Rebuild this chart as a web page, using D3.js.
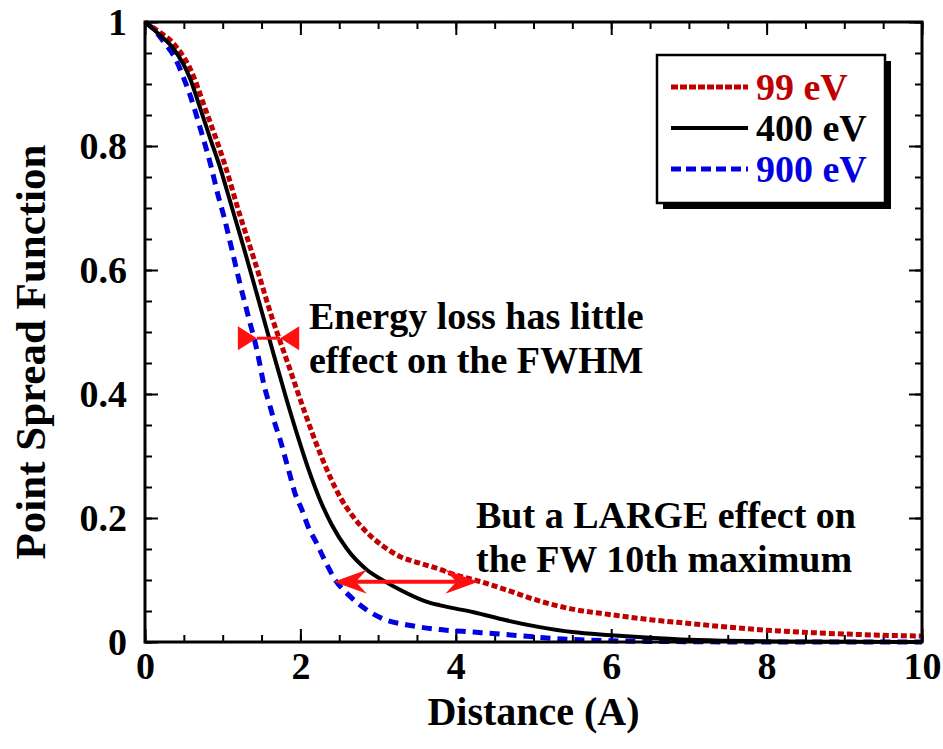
<!DOCTYPE html>
<html>
<head>
<meta charset="utf-8">
<script src="https://cdn.jsdelivr.net/npm/d3@7"></script>
<style>
  body { margin: 0; background: #fff; }
  svg text { font-family: "Liberation Serif", "Times New Roman", serif; font-weight: bold; }
</style>
</head>
<body>
<div id="chart"></div>
<script>
// Point spread function vs distance, three beam energies
const series99 = [
  [0, 1], [0.15, 0.987], [0.36, 0.966], [0.58, 0.925], [0.79, 0.855], [1.03, 0.769],
  [1.22, 0.689], [1.42, 0.611], [1.63, 0.525], [1.84, 0.449], [2.06, 0.369], [2.27, 0.299],
  [2.51, 0.234], [2.68, 0.202], [2.87, 0.175], [3.07, 0.154], [3.28, 0.138], [3.54, 0.127],
  [3.75, 0.119], [4.0, 0.108], [4.3, 0.098], [4.65, 0.084], [5.08, 0.066], [5.5, 0.053],
  [6.0, 0.044], [6.5, 0.036], [7.0, 0.030], [7.5, 0.024], [8.0, 0.019], [8.6, 0.015],
  [9.2, 0.012], [10, 0.0095]
];
const series400 = [
  [0, 1], [0.19, 0.979], [0.36, 0.958], [0.58, 0.909], [0.71, 0.861], [0.84, 0.812],
  [0.97, 0.764], [1.09, 0.713], [1.28, 0.632], [1.46, 0.552], [1.64, 0.471], [1.82, 0.392],
  [1.97, 0.33], [2.1, 0.28], [2.25, 0.23], [2.4, 0.19], [2.6, 0.15], [2.85, 0.117],
  [3.07, 0.099], [3.3, 0.083], [3.6, 0.066], [3.8, 0.059], [4.23, 0.048], [4.65, 0.035],
  [5.08, 0.024], [5.5, 0.016], [6.0, 0.011], [6.4, 0.0075], [6.9, 0.004], [7.5, 0.002],
  [8.2, 0.0008], [9, 0.0003], [10, 0]
];
const series900 = [
  [0, 1], [0.1, 0.99], [0.24, 0.968], [0.39, 0.941], [0.49, 0.912], [0.58, 0.882],
  [0.71, 0.829], [0.84, 0.772], [0.95, 0.716], [1.01, 0.689], [1.12, 0.632], [1.22, 0.579],
  [1.33, 0.525], [1.44, 0.471], [1.54, 0.41], [1.61, 0.38], [1.67, 0.353], [1.74, 0.326],
  [1.8, 0.299], [1.87, 0.267], [1.93, 0.24], [2.02, 0.213], [2.1, 0.186], [2.21, 0.159],
  [2.32, 0.13], [2.45, 0.1], [2.62, 0.076], [2.85, 0.052], [3.07, 0.037], [3.4, 0.027],
  [3.8, 0.02], [4.23, 0.016], [4.65, 0.012], [5.08, 0.0075], [5.5, 0.004], [6.0, 0.002],
  [6.5, 0.001], [7, 0.0005], [8, 0], [10, 0]
];

const legendLabels = ["99 eV", "400 eV", "900 eV"];
const xTickValues = [0, 2, 4, 6, 8, 10];
const yTickValues = [0, 0.2, 0.4, 0.6, 0.8, 1];

// annotation arrows (data coords)
const fwhmArrow = { x1: 1.44, x2: 1.74, y: 0.49 };
const fw10Arrow = { x1: 2.43, x2: 4.29, y: 0.097 };
const note1 = ["Energy loss has little", "effect on the FWHM"];
const note2 = ["But a LARGE effect on", "the FW 10th maximum"];

const width = 943;
const height = 749;
const margin = { top: 22, right: 21, bottom: 107, left: 145 };

const x = d3.scaleLinear().domain([0, 10]).range([margin.left, width - margin.right]);
const y = d3.scaleLinear().domain([0, 1]).range([height - margin.bottom, margin.top]);

const svg = d3.select("#chart").append("svg")
  .attr("width", width)
  .attr("height", height);

const styles = [
  { data: series900, color: "#0000e0", width: 5, dash: "10,7", legendDash: "10,5" },
  { data: series99, color: "#c00000", width: 5, dash: "6,3", legendDash: "7,2" },
  { data: series400, color: "#000", width: 4, dash: null, legendDash: null }
];

// ticks
const minorX = d3.range(0, 10.01, 0.5);
const minorY = d3.range(0, 1.001, 0.05);

function addAxis(axis, transform) {
  const g = svg.append("g").attr("transform", transform).call(axis);
  g.select(".domain").remove();
  g.selectAll("line").attr("stroke", "#000").attr("stroke-width", 2);
  return g;
}

const atBottom = `translate(0,${y(0)})`;
const atTop = `translate(0,${y(1)})`;
const atLeft = `translate(${x(0)},0)`;
const atRight = `translate(${x(10)},0)`;

addAxis(d3.axisBottom(x).tickValues(minorX).tickSize(-7).tickFormat(""), atBottom);
addAxis(d3.axisTop(x).tickValues(minorX).tickSize(-7).tickFormat(""), atTop);
addAxis(d3.axisLeft(y).tickValues(minorY).tickSize(-7).tickFormat(""), atLeft);
addAxis(d3.axisRight(y).tickValues(minorY).tickSize(-7).tickFormat(""), atRight);
addAxis(d3.axisTop(x).tickValues(xTickValues).tickSize(-13).tickFormat(""), atTop);
addAxis(d3.axisRight(y).tickValues(yTickValues).tickSize(-13).tickFormat(""), atRight);

const xAxisG = addAxis(d3.axisBottom(x).tickValues(xTickValues).tickSize(-13).tickPadding(10).tickFormat(d3.format("d")), atBottom);
xAxisG.selectAll("text").attr("font-size", 38).attr("fill", "#000");

const yAxisG = addAxis(d3.axisLeft(y).tickValues(yTickValues).tickSize(-13).tickPadding(18).tickFormat(d => d === 0 || d === 1 ? d3.format("d")(d) : d3.format(".1f")(d)), atLeft);
yAxisG.selectAll("text").attr("font-size", 38).attr("fill", "#000");

// curves
const line = d3.line()
  .x(d => x(d[0]))
  .y(d => y(d[1]))
  .curve(d3.curveMonotoneX);

styles.forEach(s => {
  svg.append("path")
    .datum(s.data)
    .attr("fill", "none")
    .attr("stroke", s.color)
    .attr("stroke-width", s.width)
    .attr("stroke-dasharray", s.dash)
    .attr("d", line);
});

// frame
svg.append("rect")
  .attr("x", x(0)).attr("y", y(1))
  .attr("width", x(10) - x(0)).attr("height", y(0) - y(1))
  .attr("fill", "none")
  .attr("stroke", "#000")
  .attr("stroke-width", 3);

// axis titles
svg.append("text")
  .attr("x", (x(0) + x(10)) / 2)
  .attr("y", 725)
  .attr("text-anchor", "middle")
  .attr("font-size", 40)
  .text("Distance (A)");

svg.append("text")
  .attr("transform", `translate(45,${352}) rotate(-90)`)
  .attr("text-anchor", "middle")
  .attr("font-size", 43)
  .text("Point Spread Function");

// FWHM arrow: heads point inward
const arrowRed = "#ff1010";
svg.append("line")
  .attr("x1", x(fwhmArrow.x1)).attr("x2", x(fwhmArrow.x2))
  .attr("y1", y(fwhmArrow.y)).attr("y2", y(fwhmArrow.y))
  .attr("stroke", arrowRed).attr("stroke-width", 3);

[[fwhmArrow.x1, -1], [fwhmArrow.x2, 1]].forEach(([v, dir]) => {
  const tx = x(v), ty = y(fwhmArrow.y);
  svg.append("path")
    .attr("d", `M${tx},${ty} L${tx + dir * 19},${ty - 12} L${tx + dir * 19},${ty + 12} Z`)
    .attr("fill", arrowRed);
});

// FW 10th arrow: barbed heads point outward
svg.append("line")
  .attr("x1", x(fw10Arrow.x1) + 10).attr("x2", x(fw10Arrow.x2) - 10)
  .attr("y1", y(fw10Arrow.y)).attr("y2", y(fw10Arrow.y))
  .attr("stroke", arrowRed).attr("stroke-width", 4);

[[fw10Arrow.x1, 1], [fw10Arrow.x2, -1]].forEach(([v, dir]) => {
  const tx = x(v), ty = y(fw10Arrow.y);
  svg.append("path")
    .attr("d", `M${tx},${ty} L${tx + dir * 33},${ty - 12} L${tx + dir * 22},${ty} L${tx + dir * 33},${ty + 12} Z`)
    .attr("fill", arrowRed);
});

// annotation text
function addNote(lines, tx, ty) {
  const t = svg.append("text").attr("font-size", 38).attr("fill", "#000");
  lines.forEach((l, i) => {
    t.append("tspan").attr("x", tx).attr("y", ty + i * 44).text(l);
  });
}
addNote(note1, 309, 329);
addNote(note2, 476, 528);

// legend
const lg = svg.append("g");
const lx = 657, ly = 55, lw = 228, lh = 148;
lg.append("rect").attr("x", lx + 6).attr("y", ly + 6).attr("width", lw).attr("height", lh).attr("fill", "#000");
lg.append("rect").attr("x", lx).attr("y", ly).attr("width", lw).attr("height", lh)
  .attr("fill", "#fff").attr("stroke", "#000").attr("stroke-width", 2.5);

const legendOrder = [styles[1], styles[2], styles[0]];
legendOrder.forEach((s, i) => {
  const cy = 87 + i * 41;
  lg.append("line")
    .attr("x1", 671).attr("x2", 748)
    .attr("y1", cy).attr("y2", cy)
    .attr("stroke", s.color)
    .attr("stroke-width", s.width)
    .attr("stroke-dasharray", s.legendDash);
  lg.append("text")
    .attr("x", 756).attr("y", cy + 13)
    .attr("font-size", 38)
    .attr("fill", s.color)
    .text(legendLabels[i]);
});
</script>
</body>
</html>
